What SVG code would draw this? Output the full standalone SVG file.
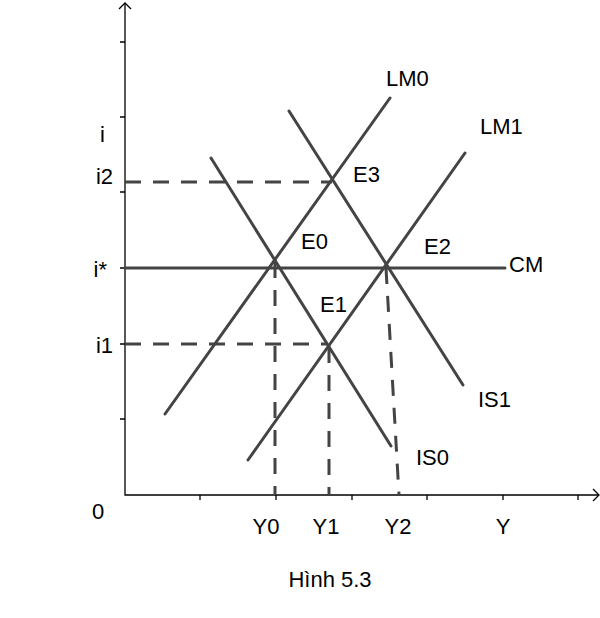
<svg xmlns="http://www.w3.org/2000/svg" width="600" height="618" viewBox="0 0 600 618">
<style>
.ax{stroke:#000;stroke-width:1.3;fill:none}
.cv{stroke:#444;stroke-width:3;fill:none;stroke-linecap:round}
.ds{stroke:#444;stroke-width:3;fill:none;stroke-dasharray:16 12}
text{font-family:"Liberation Sans",Arial,sans-serif;font-size:22px;fill:#000}
</style>
<rect width="600" height="618" fill="#fff"/>
<g id="axes">
<path class="ax" d="M125,3 V495 H599"/>
<path class="ax" d="M119,9 L125,3 L131,9"/>
<path class="ax" d="M593,489 L599,495 L593,501"/>
<path class="ax" d="M120,42 H125 M120,117 H125 M120,192 H125 M120,268 H125 M120,344 H125 M120,419 H125"/>
<path class="ax" d="M200,495 V500 M276,495 V500 M352,495 V500 M427,495 V500 M503,495 V500 M578,495 V500"/>
</g>
<g id="connectors">
<path class="ds" d="M125,182 H332"/>
<path class="ds" d="M125,344 H328"/>
<path class="ds" d="M275,262 V495"/>
<path class="ds" d="M329,347 V495"/>
<path class="ds" d="M386,268 L399,495"/>
<path class="cv" d="M125,268 H505"/>
<path class="cv" d="M165,414 L390,98"/>
<path class="cv" d="M248,460 L465,153"/>
<path class="cv" d="M211,158 L391,446"/>
<path class="cv" d="M289,111 L463,385"/>
</g>
<g id="labels">
<text x="100" y="142">i</text>
<text x="113" y="184" text-anchor="end">i2</text>
<text x="107" y="277" text-anchor="end">i*</text>
<text x="113" y="353" text-anchor="end">i1</text>
<text x="92" y="519">0</text>
<text x="266" y="534" text-anchor="middle">Y0</text>
<text x="326" y="534" text-anchor="middle">Y1</text>
<text x="398" y="534" text-anchor="middle">Y2</text>
<text x="503" y="534" text-anchor="middle">Y</text>
<text x="386" y="86">LM0</text>
<text x="480" y="134">LM1</text>
<text x="353" y="182">E3</text>
<text x="301" y="249">E0</text>
<text x="424" y="254">E2</text>
<text x="509" y="272">CM</text>
<text x="320" y="312">E1</text>
<text x="478" y="407">IS1</text>
<text x="416" y="465">IS0</text>
<text x="330" y="587" text-anchor="middle">Hình 5.3</text>
</g>
</svg>
